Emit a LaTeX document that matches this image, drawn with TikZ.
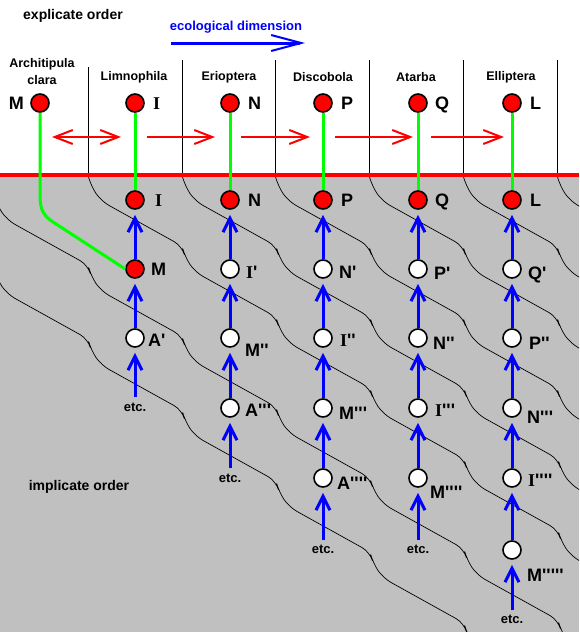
\documentclass[tikz,border=0pt]{standalone}
\usepackage{fontspec}
\setmainfont{Liberation Sans}
\newfontfamily\labsans[Ligatures=TeXOff]{Liberation Sans}
\newfontfamily\labserif[Ligatures=TeXOff]{Liberation Serif}
\usetikzlibrary{arrows.meta}
\definecolor{grybg}{HTML}{C0C0C0}
\definecolor{rdc}{HTML}{FF0000}
\definecolor{grc}{HTML}{00FF00}
\definecolor{blc}{HTML}{0000FF}
\newcommand{\sI}{{\labserif I}}
\begin{document}
\begin{tikzpicture}[x=1pt,y=-1pt,
  rednode/.style={circle,draw=black,line width=1.6pt,fill=rdc,minimum size=18pt,inner sep=0pt},
  whitenode/.style={circle,draw=black,line width=1.6pt,fill=white,minimum size=18pt,inner sep=0pt},
  lbl/.style={font=\labsans\bfseries\fontsize{18}{20}\selectfont,inner sep=0pt,anchor=base west},
  coll/.style={font=\bfseries\fontsize{12.5}{14}\selectfont,inner sep=0pt},
  bigl/.style={font=\bfseries\fontsize{14}{16}\selectfont,inner sep=0pt},
  etcl/.style={font=\bfseries\fontsize{13}{14}\selectfont,inner sep=0pt},
  bluearr/.style={blc,line width=3pt,-{Straight Barb[length=14pt,width=14pt]},shorten >=5pt},
  greenl/.style={grc,line width=3pt},
  redarr/.style={rdc,line width=2pt},
  strata/.style={black,line width=0.7pt,rounded corners=9pt},
  sepline/.style={black,line width=0.9pt}]
\useasboundingbox (0,0) rectangle (579,632);
\fill[white] (0,0) rectangle (579,176);
\fill[grybg] (0,176) rectangle (579,632);
% strata lines
\begin{scope}
\clip (0,176) rectangle (579,632);
\foreach \sx/\sy in {88/175,182/175,275/175,369/175,463/175,557/175,-6/194,-6/268}{
  \draw[strata] (\sx,\sy) \foreach \k in {1,...,7}{ -- ++(3,11) -- ++(10,15) -- ++(81,45)};
}
\end{scope}
% separators
\draw[sepline] (88,67) -- (88,176);
\foreach \x in {182,275,369,463,557} \draw[sepline] (\x,60) -- (\x,176);
% red boundary
\draw[rdc,line width=3.5pt] (0,175) -- (579,175);
% texts
\node[bigl] (expl) at (73,16) {explicate order};
\node[bigl] (impl) at (79,487) {implicate order};
\node[coll,text=blc,font=\bfseries\fontsize{13}{14}\selectfont] (eco) at (236,27) {ecological dimension};
\coordinate (ea) at (171,43);
\coordinate (eb) at (305,43);
\draw[blc,line width=3pt,-{Straight Barb[length=30pt,width=16pt,line width=2pt]}] (ea) -- (eb);
\node[coll] (n0a) at (42,64) {Architipula};
\node[coll] (n0b) at (42,80) {clara};
\node[coll] (n1) at (134,77) {Limnophila};
\node[coll] (n2) at (229,77) {Erioptera};
\node[coll] (n3) at (323,77) {Discobola};
\node[coll] (n4) at (416,77) {Atarba};
\node[coll] (n5) at (511,77) {Elliptera};
% red arrows
\coordinate (r1a) at (52,137); \coordinate (r1b) at (121,137);
\coordinate (r2a) at (147,137); \coordinate (r2b) at (215,137);
\coordinate (r3a) at (241,137); \coordinate (r3b) at (310,137);
\coordinate (r4a) at (335,137); \coordinate (r4b) at (413,137);
\coordinate (r5a) at (431,137); \coordinate (r5b) at (504,137);
\draw[redarr,{Straight Barb[length=18pt,width=14pt]}-{Straight Barb[length=18pt,width=14pt]}] (r1a) -- (r1b);
\draw[redarr,-{Straight Barb[length=18pt,width=14pt]}] (r2a) -- (r2b);
\draw[redarr,-{Straight Barb[length=18pt,width=14pt]}] (r3a) -- (r3b);
\draw[redarr,-{Straight Barb[length=18pt,width=14pt]}] (r4a) -- (r4b);
\draw[redarr,-{Straight Barb[length=18pt,width=14pt]}] (r5a) -- (r5b);
% top nodes
\node[rednode] (t0) at (40,103) {};
\node[rednode] (t1) at (135,103) {};
\node[rednode] (t2) at (230,103) {};
\node[rednode] (t3) at (323,103) {};
\node[rednode] (t4) at (418,103) {};
\node[rednode] (t5) at (512,103) {};
\node[lbl,anchor=base east] (lt0) at (24,109.4) {M};
\node[lbl] (lt1) at (153,109.4) {\sI};
\node[lbl] (lt2) at (248,109.4) {N};
\node[lbl] (lt3) at (341,109.4) {P};
\node[lbl] (lt4) at (435,109.4) {Q};
\node[lbl] (lt5) at (530,109.4) {L};
% column nodes
\node[rednode] (c1r1) at (135,200) {};
\node[rednode] (c1r2) at (135,269) {};
\node[whitenode] (c1r3) at (135,338) {};
\coordinate (e1) at (135,397);
\node[rednode] (c2r1) at (230,200) {};
\node[whitenode] (c2r2) at (230,269) {};
\node[whitenode] (c2r3) at (230,338) {};
\node[whitenode] (c2r4) at (230,408) {};
\coordinate (e2) at (230,468);
\node[rednode] (c3r1) at (323,200) {};
\node[whitenode] (c3r2) at (323,269) {};
\node[whitenode] (c3r3) at (323,338) {};
\node[whitenode] (c3r4) at (323,408) {};
\node[whitenode] (c3r5) at (323,478) {};
\coordinate (e3) at (323,540);
\node[rednode] (c4r1) at (418,200) {};
\node[whitenode] (c4r2) at (418,269) {};
\node[whitenode] (c4r3) at (418,338) {};
\node[whitenode] (c4r4) at (418,408) {};
\node[whitenode] (c4r5) at (418,478) {};
\coordinate (e4) at (418,540);
\node[rednode] (c5r1) at (512,200) {};
\node[whitenode] (c5r2) at (512,269) {};
\node[whitenode] (c5r3) at (512,338) {};
\node[whitenode] (c5r4) at (512,408) {};
\node[whitenode] (c5r5) at (512,478) {};
\node[whitenode] (c5r6) at (512,550) {};
\coordinate (e5) at (512,610);
% green lines
\draw[greenl] (t0.south) -- (40,196) .. controls (40,210) and (44,216) .. (53,222) -- (c1r2.west);
\draw[greenl] (t1) -- (c1r1);
\draw[greenl] (t2) -- (c2r1);
\draw[greenl] (t3) -- (c3r1);
\draw[greenl] (t4) -- (c4r1);
\draw[greenl] (t5) -- (c5r1);
% blue lines
\draw[bluearr] (e1) -- (c1r3); \draw[bluearr] (c1r3) -- (c1r2); \draw[bluearr] (c1r2) -- (c1r1);
\draw[bluearr] (e2) -- (c2r4); \draw[bluearr] (c2r4) -- (c2r3); \draw[bluearr] (c2r3) -- (c2r2); \draw[bluearr] (c2r2) -- (c2r1);
\draw[bluearr] (e3) -- (c3r5); \draw[bluearr] (c3r5) -- (c3r4); \draw[bluearr] (c3r4) -- (c3r3); \draw[bluearr] (c3r3) -- (c3r2); \draw[bluearr] (c3r2) -- (c3r1);
\draw[bluearr] (e4) -- (c4r5); \draw[bluearr] (c4r5) -- (c4r4); \draw[bluearr] (c4r4) -- (c4r3); \draw[bluearr] (c4r3) -- (c4r2); \draw[bluearr] (c4r2) -- (c4r1);
\draw[bluearr] (e5) -- (c5r6); \draw[bluearr] (c5r6) -- (c5r5); \draw[bluearr] (c5r5) -- (c5r4); \draw[bluearr] (c5r4) -- (c5r3); \draw[bluearr] (c5r3) -- (c5r2); \draw[bluearr] (c5r2) -- (c5r1);
% etc labels
\node[etcl] (x1) at (135,407) {etc.};
\node[etcl] (x2) at (230,478) {etc.};
\node[etcl] (x3) at (323,549) {etc.};
\node[etcl] (x4) at (418,549) {etc.};
\node[etcl] (x5) at (512,619) {etc.};
% node labels
\node[lbl] (l11) at (155,206.4) {\sI};
\node[lbl] (l12) at (151,275.4) {M};
\node[lbl] (l13) at (148,346.4) {A'};
\node[lbl] (l21) at (248,206.4) {N};
\node[lbl] (l22) at (246,278.4) {\sI'};
\node[lbl] (l23) at (245,356.4) {M''};
\node[lbl] (l24) at (245,416.4) {A'''};
\node[lbl] (l31) at (341,206.4) {P};
\node[lbl] (l32) at (339,278.4) {N'};
\node[lbl] (l33) at (340,346.4) {\sI''};
\node[lbl] (l34) at (339,419.4) {M'''};
\node[lbl] (l35) at (337,489.4) {A''''};
\node[lbl] (l41) at (435,206.4) {Q};
\node[lbl] (l42) at (434,279.4) {P'};
\node[lbl] (l43) at (433,349.4) {N''};
\node[lbl] (l44) at (435,416.4) {\sI'''};
\node[lbl] (l45) at (430,498.4) {M''''};
\node[lbl] (l51) at (530,206.4) {L};
\node[lbl] (l52) at (528,279.4) {Q'};
\node[lbl] (l53) at (529,349.4) {P''};
\node[lbl] (l54) at (527,423.4) {N'''};
\node[lbl] (l55) at (528,486.4) {\sI''''};
\node[lbl] (l56) at (527,581.4) {M'''''};
\end{tikzpicture}
\end{document}
